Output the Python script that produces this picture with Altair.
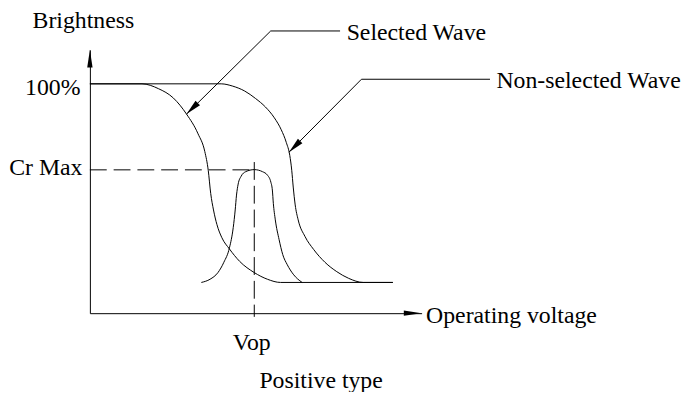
import altair as alt
import pandas as pd

FONT = "Liberation Serif"

# ---- data (x: operating voltage in relative units, Vop = 10; y: brightness %) ----
sel_v = [0, 3.17, 4.17, 5.08, 5.88, 6.58, 6.99, 7.20, 7.35, 7.52, 7.73, 8.03, 8.49, 9.11, 10.0, 10.80, 11.60, 18.43]
sel_b = [100, 100, 97.9, 93.8, 86.8, 78.2, 70.5, 62.3, 52.2, 45.0, 38.6, 32.9, 28.0, 22.6, 17.7, 14.8, 13.4, 13.4]

non_v = [0, 7.99, 8.69, 9.42, 10.08, 10.68, 11.22, 11.64, 11.95, 12.16, 12.28, 12.37, 12.49, 12.67, 13.09, 13.61, 14.30, 15.02, 15.74, 16.63, 18.43]
non_b = [100, 100, 99.0, 96.85, 93.6, 89.9, 85.2, 80.0, 74.4, 68.8, 62.3, 55.0, 47.2, 40.7, 33.4, 27.8, 22.2, 18.1, 15.2, 13.4, 13.4]

cr_v = [6.78, 7.31, 7.79, 8.15, 8.49, 8.72, 8.84, 8.92, 9.02, 9.20, 9.48, 10.0, 10.50, 10.80, 11.01, 11.10, 11.16, 11.28, 11.51, 11.73, 12.01, 12.37, 12.91]
cr_b = [13.4, 14.8, 17.7, 22.2, 28.5, 37.3, 45.0, 51.5, 56.3, 59.7, 61.7, 62.6, 61.7, 60.2, 57.1, 53.7, 47.9, 40.7, 32.1, 25.6, 21.1, 17.0, 13.4]

vop = 10.0
cr_max = 62.5
x_max = 20.18
y_max = 114.85

# leader lines: arrow tip on curve -> elbow -> end of horizontal
sel_lead_v = [5.88, 11.0, 15.22]
sel_lead_b = [86.8, 123.06, 123.06]
non_lead_v = [12.11, 16.52, 24.34]
non_lead_b = [70.2, 102.0, 102.0]

label_text = ["Selected Wave", "Non-selected Wave"]
label_v = [15.62, 24.73]
label_b = [123.06, 102.0]

# arrowheads: axis ends, leader tips
axis_arrow_v = [0, x_max]
axis_arrow_b = [y_max, 0]
axis_arrow_ang = [0, 90]
lead_arrow_v = [sel_lead_v[0], non_lead_v[0]]
lead_arrow_b = [sel_lead_b[0], non_lead_b[0]]
lead_arrow_ang = [225, 225]

# ---- tables ----
curves = pd.DataFrame({
    "curve": ["Selected"] * len(sel_v) + ["Non-selected"] * len(non_v) + ["Cr"] * len(cr_v),
    "v": sel_v + non_v + cr_v,
    "b": sel_b + non_b + cr_b,
})
leaders = pd.DataFrame({
    "lead": ["s"] * 3 + ["n"] * 3,
    "ord": [0, 1, 2, 0, 1, 2],
    "v": sel_lead_v + non_lead_v,
    "b": sel_lead_b + non_lead_b,
})
labels = pd.DataFrame({"text": label_text, "v": label_v, "b": label_b})
axis_arrows = pd.DataFrame({"v": axis_arrow_v, "b": axis_arrow_b, "ang": axis_arrow_ang})
lead_arrows = pd.DataFrame({"v": lead_arrow_v, "b": lead_arrow_b, "ang": lead_arrow_ang})
hdash = pd.DataFrame({"v": [0.0], "v2": [vop], "b": [cr_max]})
vdash = pd.DataFrame({"v": [vop], "b": [65.9], "b2": [-1.6]})

# ---- scales & axes ----
xs = alt.Scale(domain=[0, x_max], nice=False, zero=False)
ys = alt.Scale(domain=[0, y_max], nice=False, zero=False)

common_axis = dict(
    grid=False, ticks=False, tickSize=0, domainColor="black", domainWidth=1,
    labelFont=FONT, labelFontSize=24, labelColor="black",
    titleFont=FONT, titleFontSize=24, titleFontWeight="normal", titleColor="black",
    labelOverlap=False, labelFlush=False,
)
xaxis = alt.Axis(
    values=[vop], labelExpr="'Vop'", labelPadding=18, labelOffset=-3,
    title="Operating voltage", titleX=339, titleY=9.7,
    titleAlign="left", titleBaseline="alphabetic", **common_axis,
)
yaxis = alt.Axis(
    values=[cr_max, 100],
    labelExpr="datum.value == 100 ? '100%' : 'Cr Max'",
    labelOffset={"condition": {"test": "datum.value == 100", "value": 4}, "value": -2},
    labelPadding={"condition": {"test": "datum.value == 100", "value": 10}, "value": 8},
    title="Brightness", titleAngle=0, titleX=-58.4, titleY=-22.5,
    titleAlign="left", titleBaseline="alphabetic", **common_axis,
)

X = alt.X("v:Q", scale=xs, axis=xaxis)
Y = alt.Y("b:Q", scale=ys, axis=yaxis)

curve_layer = alt.Chart(curves).mark_line(
    interpolate="monotone", color="black", strokeWidth=1
).encode(x=X, y=Y, detail="curve:N")

leader_layer = alt.Chart(leaders).mark_line(color="black", strokeWidth=1).encode(
    x=X, y=Y, detail="lead:N", order="ord:Q"
)

hdash_layer = alt.Chart(hdash).mark_rule(
    color="black", strokeWidth=1, strokeDash=[17, 7]
).encode(x=X, x2="v2:Q", y=Y)

vdash_layer = alt.Chart(vdash).mark_rule(
    color="black", strokeWidth=1, strokeDash=[18, 6]
).encode(x=X, y=Y, y2="b2:Q")

axis_arrow_layer = alt.Chart(axis_arrows).mark_point(
    shape="M0,0L0.3,2L-0.3,2Z", filled=True, size=324, color="black", opacity=1, strokeWidth=0
).encode(x=X, y=Y, angle=alt.Angle("ang:Q", scale=None))

lead_arrow_layer = alt.Chart(lead_arrows).mark_point(
    shape="M0,0L0.4,2L-0.4,2Z", filled=True, size=256, color="black", opacity=1, strokeWidth=0
).encode(x=X, y=Y, angle=alt.Angle("ang:Q", scale=None))

text_layer = alt.Chart(labels).mark_text(
    align="left", baseline="middle", dy=2, font=FONT, fontSize=24, color="black"
).encode(x=X, y=Y, text="text:N")

chart = alt.layer(
    curve_layer, hdash_layer, vdash_layer, leader_layer,
    axis_arrow_layer, lead_arrow_layer, text_layer
).properties(
    width=335,
    height=266,
    padding={"left": 82.7, "top": 40.3, "right": 266, "bottom": 78},
    autosize=alt.AutoSizeParams(type="none"),
    background="white",
    title=alt.Title(
        "Positive type", orient="bottom", anchor="middle", frame="group",
        dx=66, offset=15, font=FONT, fontSize=24, fontWeight="normal", color="black",
    ),
).configure_view(strokeWidth=0)

chart.save("out.html", embed_options={"renderer": "svg", "actions": False})
